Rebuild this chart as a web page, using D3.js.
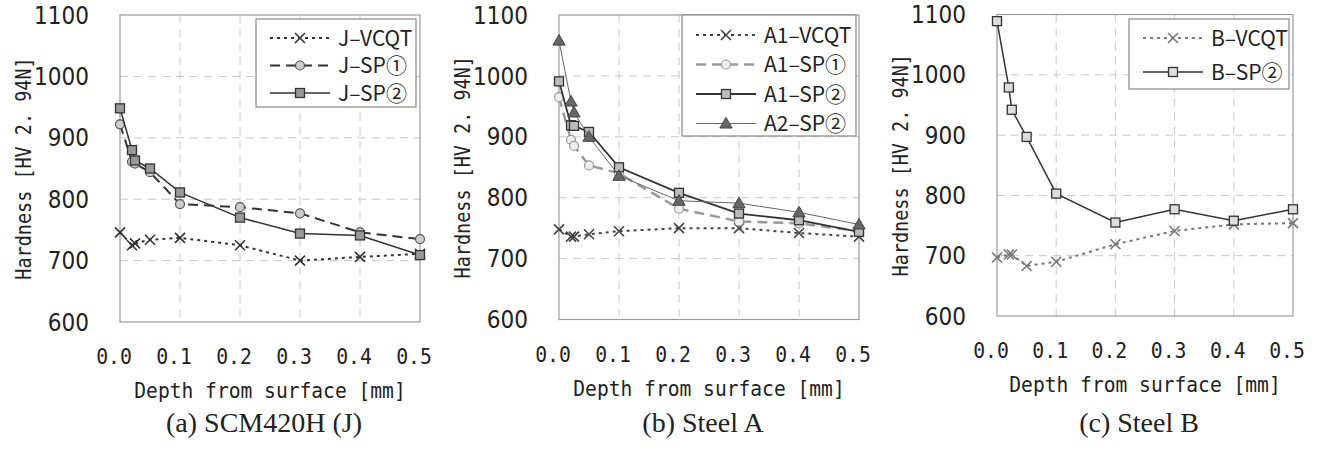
<!DOCTYPE html>
<html lang="en">
<head>
  <meta charset="UTF-8">
  <title>hardness profiles</title>
  <script src="https://cdn.jsdelivr.net/npm/d3@7"></script>
  <style>
    body { margin: 0; background: #fff; }
  </style>
</head>
<body>
<div id="chart"></div>
<script>
    // depths [mm] shared by every series
    const depth = [0, 0.02, 0.025, 0.05, 0.1, 0.2, 0.3, 0.4, 0.5];
    const xTicks = [0, 0.1, 0.2, 0.3, 0.4, 0.5];
    const xTickLabels = ["0.0", "0.1", "0.2", "0.3", "0.4", "0.5"];
    const yTicks = [600, 700, 800, 900, 1000, 1100];

    // (a) SCM420H (J)
    const J_VCQT = [746, 725, 728, 734, 737, 725, 700, 706, 711];
    const J_SP1 = [922, 861, 858, 844, 792, 787, 777, 746, 735];
    const J_SP2 = [948, 880, 863, 850, 811, 770, 744, 741, 709];
    // (b) Steel A
    const A1_VCQT = [748, 736, 736, 740, 745, 750, 750, 742, 736];
    const A1_SP1 = [965, 895, 885, 853, 840, 782, 761, 758, 745];
    const A1_SP2 = [991, 919, 918, 908, 850, 808, 774, 763, 744];
    const A2_SP2 = [1058, 958, 940, 900, 836, 795, 791, 776, 756];
    // (c) Steel B
    const B_VCQT = [697, 702, 702, 683, 690, 719, 741, 752, 754];
    const B_SP2 = [1089, 979, 942, 897, 803, 755, 777, 758, 777];

    const panels = [
        {
            caption: "(a) SCM420H (J)", left: 120, right: 420, top: 15, bottom: 322,
            legend: {x: 256, y: 19, w: 160, h: 88, row0: 19, step: 27.5},
            series: [
                {name: "J\u2013VCQT", values: J_VCQT, stroke: "#333", width: 2, dash: "3,4", marker: "x", mstroke: "#333"},
                {name: "J\u2013SP\u2460", values: J_SP1, stroke: "#333", width: 2, dash: "10,6", marker: "circle", fill: "#ccc", mstroke: "#555"},
                {name: "J\u2013SP\u2461", values: J_SP2, stroke: "#333", width: 1.5, dash: null, marker: "square", fill: "#999", mstroke: "#333"}
            ]
        },
        {
            caption: "(b) Steel A", left: 559, right: 859, top: 15, bottom: 319.5,
            legend: {x: 682, y: 15, w: 174, h: 121, row0: 20, step: 29.5},
            series: [
                {name: "A1\u2013VCQT", values: A1_VCQT, stroke: "#444", width: 2, dash: "3,4", marker: "x", mstroke: "#444"},
                {name: "A1\u2013SP\u2460", values: A1_SP1, stroke: "#999", width: 2.5, dash: "10,6", marker: "circle", fill: "#eee", mstroke: "#999"},
                {name: "A1\u2013SP\u2461", values: A1_SP2, stroke: "#333", width: 1.8, dash: null, marker: "square", fill: "#bbb", mstroke: "#333"},
                {name: "A2\u2013SP\u2461", values: A2_SP2, stroke: "#666", width: 1, dash: null, marker: "triangle", fill: "#666", mstroke: "#444"}
            ]
        },
        {
            caption: "(c) Steel B", left: 997, right: 1293, top: 14.5, bottom: 316,
            legend: {x: 1129, y: 19, w: 160, h: 70, row0: 19, step: 34},
            series: [
                {name: "B\u2013VCQT", values: B_VCQT, stroke: "#777", width: 2, dash: "3,4", marker: "x", mstroke: "#777"},
                {name: "B\u2013SP\u2461", values: B_SP2, stroke: "#333", width: 1.5, dash: null, marker: "square", fill: "#ddd", mstroke: "#333"}
            ]
        }
    ];

    const svg = d3.select("#chart").append("svg")
        .attr("width", 1317).attr("height", 450);
    svg.append("rect").attr("width", 1317).attr("height", 450).attr("fill", "#fff");

    const sansNarrow = "'Liberation Sans Narrow', 'DejaVu Sans Condensed', 'Liberation Sans', sans-serif";
    const legendFont = "'Liberation Sans Narrow', 'Noto Sans CJK JP', sans-serif";
    const mono = "'DejaVu Sans Mono', 'Liberation Mono', monospace";

    let drawMarker = function (g, type, cx, cy, s) {
        if (type === "x") {
            g.append("path").attr("d", `M${cx - 5},${cy - 5}L${cx + 5},${cy + 5}M${cx - 5},${cy + 5}L${cx + 5},${cy - 5}`)
                .attr("stroke", s.mstroke).attr("stroke-width", 1.6).attr("fill", "none");
        } else if (type === "circle") {
            g.append("circle").attr("cx", cx).attr("cy", cy).attr("r", 4.5)
                .attr("fill", s.fill).attr("stroke", s.mstroke).attr("stroke-width", 1.2);
        } else if (type === "square") {
            g.append("rect").attr("x", cx - 4.5).attr("y", cy - 4.5).attr("width", 9).attr("height", 9)
                .attr("fill", s.fill).attr("stroke", s.mstroke).attr("stroke-width", 1.3);
        } else if (type === "triangle") {
            g.append("path").attr("d", d3.symbol().type(d3.symbolTriangle).size(65)())
                .attr("transform", `translate(${cx},${cy + 1})`)
                .attr("fill", s.fill).attr("stroke", s.mstroke).attr("stroke-width", 1);
        }
    };

    panels.forEach(function (p) {
        let x = d3.scaleLinear().domain([0, 0.5]).range([p.left, p.right]);
        let y = d3.scaleLinear().domain([600, 1100]).range([p.bottom, p.top]);
        let g = svg.append("g");

        // grid
        g.selectAll(".hg").data(yTicks.slice(1, -1)).enter().append("line")
            .attr("x1", p.left).attr("x2", p.right).attr("y1", d => y(d)).attr("y2", d => y(d))
            .attr("stroke", "#c8c8c8").attr("stroke-dasharray", "8,6");
        g.selectAll(".vg").data(xTicks.slice(1, -1)).enter().append("line")
            .attr("y1", p.top).attr("y2", p.bottom).attr("x1", d => x(d)).attr("x2", d => x(d))
            .attr("stroke", "#c8c8c8").attr("stroke-dasharray", "8,6");
        g.append("rect").attr("x", p.left).attr("y", p.top)
            .attr("width", p.right - p.left).attr("height", p.bottom - p.top)
            .attr("fill", "none").attr("stroke", "#999").attr("stroke-width", 1.2);

        // tick labels
        g.selectAll(".yt").data(yTicks).enter().append("text")
            .attr("x", p.left - 31).attr("y", d => y(d)).attr("dy", "0.36em")
            .attr("text-anchor", "end").attr("font-family", sansNarrow).attr("font-size", 24)
            .attr("fill", "#222").text(d => d);
        g.selectAll(".xt").data(xTicks).enter().append("text")
            .attr("transform", d => `translate(${x(d) - 6},${p.bottom + 42}) scale(0.9,1)`)
            .attr("text-anchor", "middle").attr("font-family", mono).attr("font-size", 22)
            .attr("fill", "#222").text((d, i) => xTickLabels[i]);

        // axis titles and caption
        let cx = (p.left + p.right) / 2;
        g.append("text").attr("transform", `translate(${cx},${p.bottom + 76}) scale(0.9,1)`)
            .attr("text-anchor", "middle").attr("font-family", mono).attr("font-size", 21.8)
            .attr("fill", "#222").text("Depth from surface [mm]");
        g.append("text")
            .attr("transform", `translate(${p.left - 89},${(p.top + p.bottom) / 2}) rotate(-90) scale(0.88,1)`)
            .attr("text-anchor", "middle").attr("font-family", mono).attr("font-size", 21)
            .attr("fill", "#222").text("Hardness [HV 2. 94N]");
        g.append("text").attr("x", cx - 6).attr("y", 432)
            .attr("text-anchor", "middle").attr("font-family", "'Liberation Serif', 'Times New Roman', serif")
            .attr("font-size", 28).attr("fill", "#222").text(p.caption);

        // series
        let line = d3.line().x((d, i) => x(depth[i])).y(d => y(d));
        p.series.forEach(function (s) {
            g.append("path").datum(s.values).attr("d", line)
                .attr("fill", "none").attr("stroke", s.stroke).attr("stroke-width", s.width)
                .attr("stroke-dasharray", s.dash);
            s.values.forEach(function (v, i) {
                drawMarker(g, s.marker, x(depth[i]), y(v), s);
            });
        });

        // legend
        let L = p.legend;
        g.append("rect").attr("x", L.x).attr("y", L.y).attr("width", L.w).attr("height", L.h)
            .attr("fill", "#fff").attr("stroke", "#888").attr("stroke-width", 1.2);
        p.series.forEach(function (s, i) {
            let ry = L.y + L.row0 + i * L.step;
            let lx0 = L.x + 14, lx1 = L.x + 74;
            g.append("line").attr("x1", lx0).attr("x2", lx1).attr("y1", ry).attr("y2", ry)
                .attr("stroke", s.stroke).attr("stroke-width", s.width).attr("stroke-dasharray", s.dash);
            drawMarker(g, s.marker, (lx0 + lx1) / 2, ry, s);
            g.append("text").attr("x", L.x + 82).attr("y", ry).attr("dy", "0.36em")
                .attr("font-family", legendFont).attr("font-size", 21).attr("fill", "#222")
                .text(s.name);
        });
    });
</script>
</body>
</html>
